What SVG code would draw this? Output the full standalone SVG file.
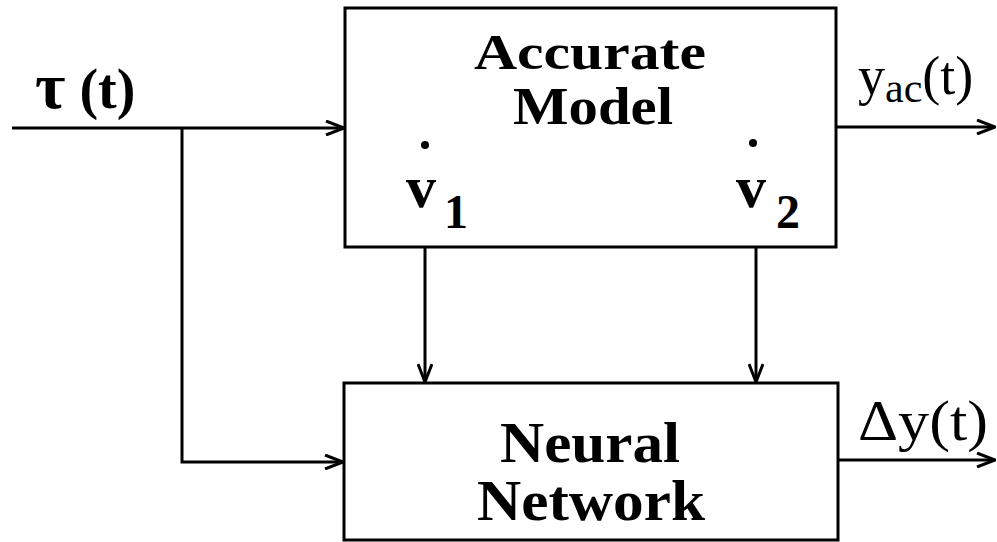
<svg xmlns="http://www.w3.org/2000/svg" width="997" height="542" viewBox="0 0 997 542">
<style>
.box{fill:none;stroke:#000;stroke-width:3}
.ln{fill:none;stroke:#000;stroke-width:3}
.t{font-family:"Liberation Serif","Times New Roman",serif;font-weight:bold;fill:#000}
.r{font-family:"Liberation Serif","Times New Roman",serif;fill:#000}
</style>
<defs>
<marker id="ah" viewBox="0 0 20 16" refX="19" refY="8" markerWidth="20" markerHeight="16" markerUnits="userSpaceOnUse" orient="auto">
<path d="M1,1 L19,8 L1,15" fill="none" stroke="#000" stroke-width="3"/>
</marker>
</defs>
<g id="connectors">
<path class="ln" d="M12,128 H344" marker-end="url(#ah)"/>
<path class="ln" d="M182,128 V462 H343" marker-end="url(#ah)"/>
<path class="ln" d="M425,247 V382" marker-end="url(#ah)"/>
<path class="ln" d="M756,247 V382" marker-end="url(#ah)"/>
<path class="ln" d="M836,127 H995" marker-end="url(#ah)"/>
<path class="ln" d="M838,460 H995" marker-end="url(#ah)"/>
</g>
<g id="accurate-model">
<rect class="box" x="345" y="8" width="491" height="239"/>
<text class="t" x="590" y="69" font-size="50" text-anchor="middle" textLength="232" lengthAdjust="spacingAndGlyphs">Accurate</text>
<text class="t" x="593" y="124" font-size="52" text-anchor="middle" textLength="160" lengthAdjust="spacingAndGlyphs">Model</text>
<circle cx="425" cy="145" r="4"/>
<text class="t" x="406" y="207" font-size="60">v</text>
<text class="t" x="444" y="228" font-size="48">1</text>
<circle cx="753" cy="143" r="4"/>
<text class="t" x="736" y="207" font-size="60">v</text>
<text class="t" x="776" y="228" font-size="48">2</text>
</g>
<g id="neural-network">
<rect class="box" x="344" y="383" width="494" height="157"/>
<text class="t" x="590" y="462" font-size="56" text-anchor="middle" textLength="180" lengthAdjust="spacingAndGlyphs">Neural</text>
<text class="t" x="591" y="520" font-size="56" text-anchor="middle" textLength="228" lengthAdjust="spacingAndGlyphs">Network</text>
</g>
<g id="labels">
<text class="t" x="35" y="108" font-size="56"><tspan font-size="66">τ</tspan> (t)</text>
<text class="r" x="858" y="94" font-size="54">y<tspan font-size="42" dy="8">ac</tspan><tspan dy="-8">(t)</tspan></text>
<text class="r" x="858" y="440" font-size="56" textLength="130" lengthAdjust="spacingAndGlyphs">Δy(t)</text>
</g>
</svg>
